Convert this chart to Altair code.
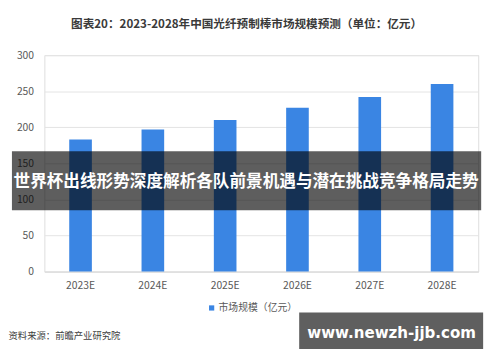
import altair as alt
import pandas as pd

years = ["2023E", "2024E", "2025E", "2026E", "2027E", "2028E"]
values = [183, 197, 210, 227, 242, 260]
series_name = "市场规模（亿元）"
title_text = "图表20：2023-2028年中国光纤预制棒市场规模预测（单位：亿元）"
source_text = "资料来源：前瞻产业研究院"
banner_text = "世界杯出线形势深度解析各队前景机遇与潜在挑战竞争格局走势"
site_text = "www.newzh-jjb.com"
y_ticks = [0, 50, 100, 150, 200, 250, 300]

FONT = "Noto Sans CJK SC"
df = pd.DataFrame({"year": years, "value": values, "series": [series_name] * len(years)})
one = alt.Data(values=[{"a": 1}])

bars = alt.Chart(df).mark_bar(color="#3a85e3").encode(
    x=alt.X("year:N", sort=years, title=None,
            scale=alt.Scale(paddingInner=0.687, paddingOuter=0.3435),
            axis=alt.Axis(labelAngle=0, ticks=False, domain=True, domainColor="#d9d9d9",
                          labelColor="#595959", labelFontSize=10.5, labelPadding=9,
                          labelFont=FONT)),
    y=alt.Y("value:Q", title=None, scale=alt.Scale(domain=[0, 300]),
            axis=alt.Axis(values=y_ticks, ticks=False, domain=False, gridColor="#e3e3e3",
                          labelColor="#595959", labelFontSize=10.5, labelPadding=11,
                          labelFont=FONT)),
    color=alt.Color("series:N", scale=alt.Scale(range=["#3a85e3"]), title=None,
                    legend=alt.Legend(orient="none", legendX=165, legendY=252,
                                      symbolType="square", symbolSize=28,
                                      symbolStrokeWidth=0, labelFontSize=10,
                                      labelColor="#595959", labelFont=FONT,
                                      symbolOffset=0, labelOffset=2)),
)

title = alt.Chart(one).mark_text(text=title_text, font=FONT, fontSize=11.8, fontWeight="bold",
                                 color="#3a3a3a", align="center", baseline="middle").encode(
    x=alt.value(205.5), y=alt.value(-31.5))

source = alt.Chart(one).mark_text(text=source_text, font=FONT, fontSize=9.5,
                                  color="#404040", align="left", baseline="middle").encode(
    x=alt.value(-36.5), y=alt.value(285.5))

banner = alt.Chart(one).mark_rect(color="black", opacity=0.63).encode(
    x=alt.value(-33), x2=alt.value(444), y=alt.value(97.7), y2=alt.value(157.7))
banner_label = alt.Chart(one).mark_text(text=banner_text, font=FONT, fontSize=16.9,
                                        fontWeight="bold", color="white",
                                        align="center", baseline="middle").encode(
    x=alt.value(205), y=alt.value(129.5))

site_box = alt.Chart(one).mark_rect(color="#5f5f5f").encode(
    x=alt.value(259), x2=alt.value(446), y=alt.value(261.7), y2=alt.value(298.7))
site_label = alt.Chart(one).mark_text(text=site_text, font="DejaVu Sans", fontSize=15.3,
                                      fontWeight="bold", color="white",
                                      align="center", baseline="middle").encode(
    x=alt.value(353), y=alt.value(282.5))

chart = alt.layer(bars, title, source, banner, banner_label, site_box, site_label).properties(
    width=441, height=220,
    padding={"left": 37, "top": 45, "right": 14, "bottom": 89},
    autosize=alt.AutoSizeParams(type="none"),
).configure_view(stroke=None).configure(background="white")

chart.save("out.html", embed_options={"renderer": "svg", "actions": False})
